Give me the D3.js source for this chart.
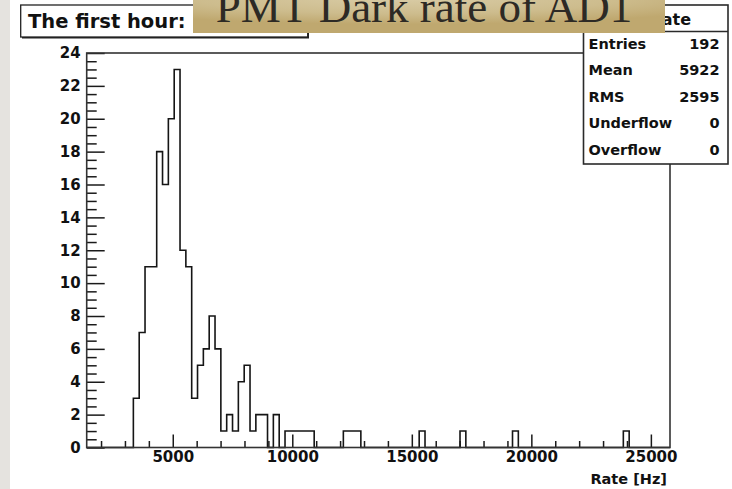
<!DOCTYPE html>
<html>
<head>
<meta charset="utf-8">
<script src="https://cdn.jsdelivr.net/npm/d3@7/dist/d3.min.js"></script>
<style>
  html, body { margin: 0; padding: 0; background: #ffffff; }
  svg { display: block; }
  text { font-family: "DejaVu Sans", sans-serif; font-weight: bold; fill: #111; }
</style>
</head>
<body>
<svg id="chart" width="732" height="489"></svg>
<script>
// Histogram definition: rate range [Hz] and number of bins
const rateRange = [1400, 25800];
const nBins = 100;

// Entries per bin (bin 0 .. bin 99)
const binCounts = [
  0, 0, 0, 0, 0, 0, 0, 0, 3, 7,
  11, 11, 18, 16, 20, 23, 12, 11, 3, 5,
  6, 8, 6, 1, 2, 1, 4, 5, 1, 2,
  2, 0, 2, 0, 1, 1, 1, 1, 1, 0,
  0, 0, 0, 0, 1, 1, 1, 0, 0, 0,
  0, 0, 0, 0, 0, 0, 0, 1, 0, 0,
  0, 0, 0, 0, 1, 0, 0, 0, 0, 0,
  0, 0, 0, 1, 0, 0, 0, 0, 0, 0,
  0, 0, 0, 0, 0, 0, 0, 0, 0, 0,
  0, 0, 1, 0, 0, 0, 0, 0, 0, 0
];

// Axis ticks
const xMajorTicks = [5000, 10000, 15000, 20000, 25000];
const xMinorTicks = [2000, 3000, 4000, 6000, 7000, 8000, 9000, 11000, 12000, 13000, 14000,
                     16000, 17000, 18000, 19000, 21000, 22000, 23000, 24000];
const yMajorTicks = [0, 2, 4, 6, 8, 10, 12, 14, 16, 18, 20, 22, 24];
const yMinorTicks = [0.5, 1, 1.5, 2.5, 3, 3.5, 4.5, 5, 5.5, 6.5, 7, 7.5, 8.5, 9, 9.5,
                     10.5, 11, 11.5, 12.5, 13, 13.5, 14.5, 15, 15.5, 16.5, 17, 17.5,
                     18.5, 19, 19.5, 20.5, 21, 21.5, 22.5, 23, 23.5];
const yDomain = [0, 24];

// Statistics box
const statTitle = "Rate";
const statLabels = ["Entries", "Mean", "RMS", "Underflow", "Overflow"];
const statValues = ["192", "5922", "2595", "0", "0"];

// Texts
const padTitle = "The first hour:";
const bannerTitle = "PMT Dark rate of AD1";
const xAxisTitle = "Rate [Hz]";

const svg = d3.select("#chart");

// Frame geometry
const frame = { left: 86.7, right: 670, top: 53, bottom: 447.5 };

const x = d3.scaleLinear().domain(rateRange).range([frame.left, frame.right]);
const y = d3.scaleLinear().domain(yDomain).range([frame.bottom, frame.top]);

// Light grey strip on the left edge
svg.append("rect").attr("x", 0).attr("y", 0).attr("width", 10).attr("height", 489)
  .attr("fill", "#e5e3df");

// Histogram outline
const binWidth = (rateRange[1] - rateRange[0]) / nBins;
const pts = [[rateRange[0], 0]];
binCounts.forEach((c, i) => {
  const lo = rateRange[0] + i * binWidth;
  pts.push([lo, c]);
  pts.push([lo + binWidth, c]);
});
pts.push([rateRange[1], 0]);

svg.append("path")
  .attr("d", d3.line().x(d => x(d[0])).y(d => y(d[1]))(pts))
  .attr("fill", "none")
  .attr("stroke", "#151515")
  .attr("stroke-width", 1.6);

// Y axis: major + minor ticks pointing inside the frame
const yMajor = svg.append("g").attr("transform", `translate(${frame.left},0)`)
  .call(d3.axisLeft(y).tickValues(yMajorTicks).tickSize(-18).tickPadding(6).tickFormat(d3.format("d")));
const yMinor = svg.append("g").attr("transform", `translate(${frame.left},0)`)
  .call(d3.axisLeft(y).tickValues(yMinorTicks).tickSize(-10).tickFormat(""));

// X axis
const xMajor = svg.append("g").attr("transform", `translate(0,${frame.bottom})`)
  .call(d3.axisBottom(x).tickValues(xMajorTicks).tickSize(-13).tickPadding(4).tickFormat(d3.format("d")));
const xMinor = svg.append("g").attr("transform", `translate(0,${frame.bottom})`)
  .call(d3.axisBottom(x).tickValues(xMinorTicks).tickSize(-6.5).tickFormat(""));

[yMajor, yMinor, xMajor, xMinor].forEach(g => {
  g.select(".domain").remove();
  g.selectAll(".tick line").attr("stroke", "#1a1a1a").attr("stroke-width", 1.5);
  g.selectAll(".tick text").attr("font-size", 15).attr("font-family", "DejaVu Sans")
    .attr("font-weight", "bold").attr("fill", "#111");
});

// Frame
svg.append("rect")
  .attr("x", frame.left).attr("y", frame.top)
  .attr("width", frame.right - frame.left).attr("height", frame.bottom - frame.top)
  .attr("fill", "none").attr("stroke", "#333").attr("stroke-width", 1.6);

// X axis title
svg.append("text").attr("x", 667).attr("y", 484).attr("text-anchor", "end")
  .attr("font-size", 14.5).text(xAxisTitle);

// Pad title box (with its drop shadow)
svg.append("rect").attr("x", 22).attr("y", 6.5).attr("width", 287).attr("height", 32)
  .attr("fill", "#222");
svg.append("rect").attr("x", 20.7).attr("y", 5).attr("width", 287).attr("height", 32)
  .attr("fill", "#fff").attr("stroke", "#222").attr("stroke-width", 1.3);
svg.append("text").attr("x", 28).attr("y", 28).attr("font-size", 19.5).text(padTitle);

// Statistics box
const sb = { x: 583.5, y: 5, w: 144.5, h: 159 };
svg.append("rect").attr("x", sb.x).attr("y", sb.y).attr("width", sb.w).attr("height", sb.h)
  .attr("fill", "#fff").attr("stroke", "#2a2a2a").attr("stroke-width", 1.6);
svg.append("line").attr("x1", sb.x).attr("x2", sb.x + sb.w).attr("y1", 31.5).attr("y2", 31.5)
  .attr("stroke", "#2a2a2a").attr("stroke-width", 1.4);
svg.append("text").attr("x", 691).attr("y", 25).attr("text-anchor", "end")
  .attr("font-size", 16).text(statTitle);
const rowY = d3.scalePoint().domain(statLabels).range([48.5, 155]);
statLabels.forEach((lab, i) => {
  svg.append("text").attr("x", 588.5).attr("y", rowY(lab)).attr("font-size", 14.5).text(lab);
  svg.append("text").attr("x", 719.5).attr("y", rowY(lab)).attr("text-anchor", "end")
    .attr("font-size", 14.5).text(statValues[i]);
});

// Gold title banner on top
const defs = svg.append("defs");
const grad = defs.append("radialGradient").attr("id", "gold")
  .attr("cx", "45%").attr("cy", "0%").attr("r", "75%").attr("fx", "45%").attr("fy", "0%");
grad.append("stop").attr("offset", "0%").attr("stop-color", "#d9cca6");
grad.append("stop").attr("offset", "60%").attr("stop-color", "#cdbc8d");
grad.append("stop").attr("offset", "100%").attr("stop-color", "#bfa86f");
svg.append("rect").attr("x", 193).attr("y", -2).attr("width", 472).attr("height", 35)
  .attr("fill", "url(#gold)");
svg.append("text").attr("x", 424).attr("y", 22).attr("text-anchor", "middle")
  .style("font-family", "'Liberation Serif', 'Times New Roman', serif")
  .style("font-weight", "normal").style("fill", "#2d2a25")
  .attr("font-size", 45).text(bannerTitle);
</script>
</body>
</html>
